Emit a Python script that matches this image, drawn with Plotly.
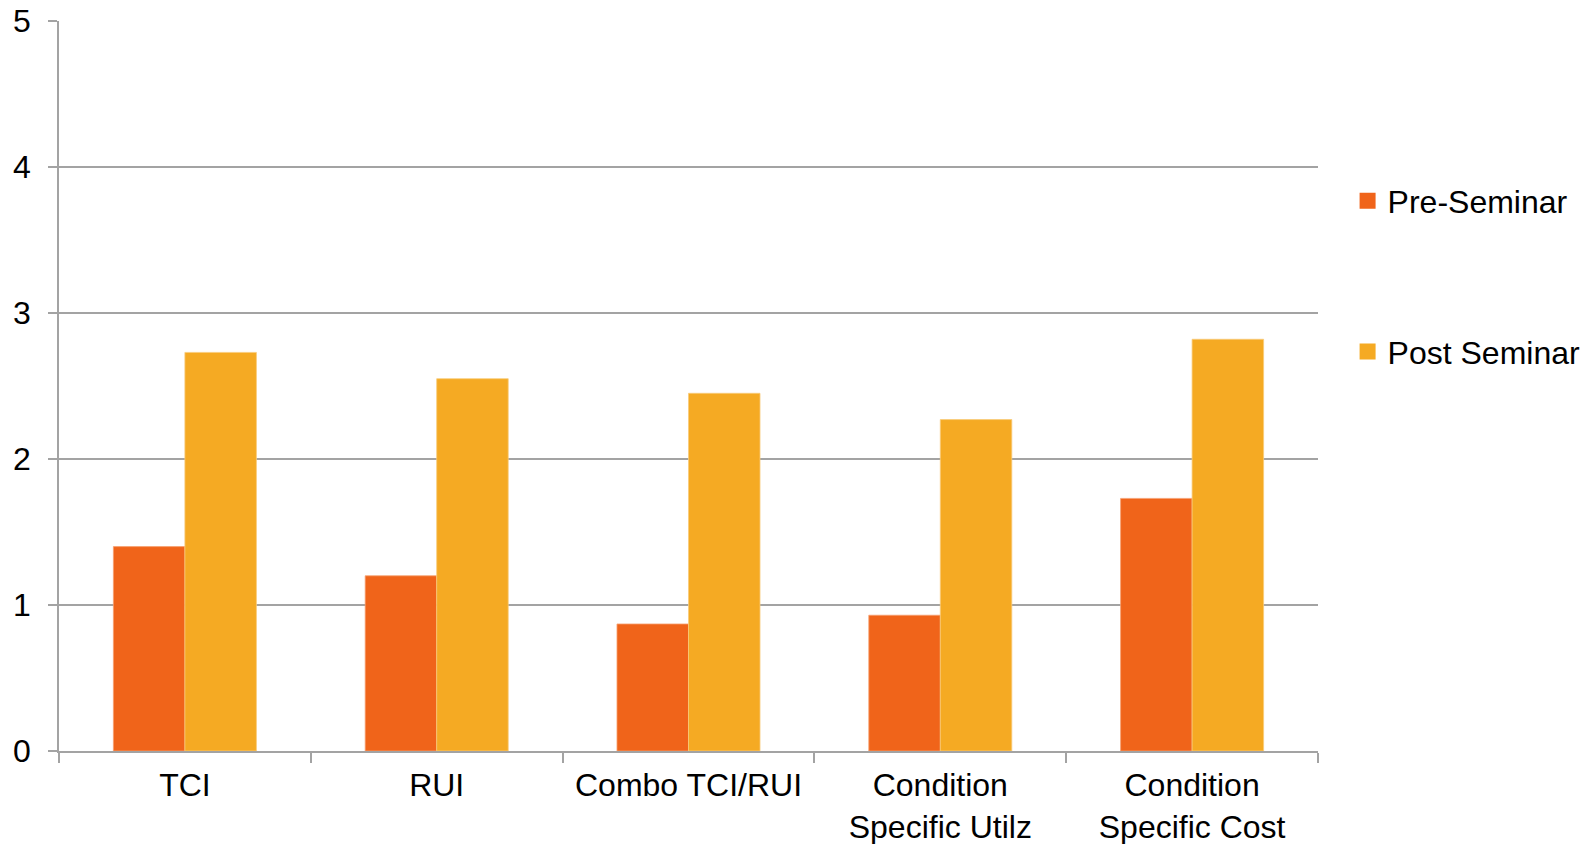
import plotly.graph_objects as go

# Average self-rated score per topic, before and after the seminar
categories = ["TCI", "RUI", "Combo TCI/RUI", "Condition<br>Specific Utilz", "Condition<br>Specific Cost"]
pre_seminar = [1.40, 1.20, 0.87, 0.93, 1.73]
post_seminar = [2.73, 2.55, 2.45, 2.27, 2.82]
y_ticks = [0, 1, 2, 3, 4, 5]

series = [
    ("Pre-Seminar", pre_seminar, "#F0641A", "#F6A070"),
    ("Post Seminar", post_seminar, "#F5AA23", "#F9CC7A"),
]

FONT = "Liberation Sans, Arial, sans-serif"
GRID = "#A3A3A3"

fig = go.Figure()
for name, values, color, edge in series:
    fig.add_trace(go.Bar(
        x=categories, y=values, name=name,
        marker=dict(color=color, line=dict(color=edge, width=0.8)),
        showlegend=False,
    ))

# Legend entries with larger square swatches, one group each so they can be spaced apart
for i, (name, values, color, edge) in enumerate(series):
    fig.add_trace(go.Scatter(
        x=[None], y=[None], name=name, mode="markers",
        marker=dict(symbol="square", size=16, color=color),
        legendgroup=f"g{i}", showlegend=True,
    ))

fig.update_layout(
    width=1595, height=844,
    margin=dict(l=59, r=277, t=21, b=93, autoexpand=False),
    paper_bgcolor="white", plot_bgcolor="white",
    barmode="group", bargap=0.432, bargroupgap=0,
    font=dict(family=FONT, size=32, color="black"),
    legend=dict(
        x=1.0235, xanchor="left", y=0.791, yanchor="top",
        traceorder="grouped", tracegroupgap=106,
        font=dict(family=FONT, size=32, color="black"),
        bgcolor="rgba(0,0,0,0)",
    ),
    xaxis=dict(
        type="category", tickson="boundaries", automargin=False,
        ticks="outside", ticklen=10, tickwidth=1.5, tickcolor=GRID,
        showline=True, linecolor=GRID, linewidth=1.5,
        showgrid=False, tickfont=dict(size=32), ticklabelstandoff=5,
    ),
    yaxis=dict(
        range=[0, 5], tickvals=y_ticks, ticktext=[str(v) for v in y_ticks],
        automargin=False,
        ticks="outside", ticklen=9, tickwidth=1.5, tickcolor=GRID,
        showline=True, linecolor=GRID, linewidth=1.5,
        showgrid=True, gridcolor=GRID, gridwidth=1.5,
        zeroline=False, tickfont=dict(size=32), ticklabelstandoff=11,
    ),
)

fig.write_html("out.html")
